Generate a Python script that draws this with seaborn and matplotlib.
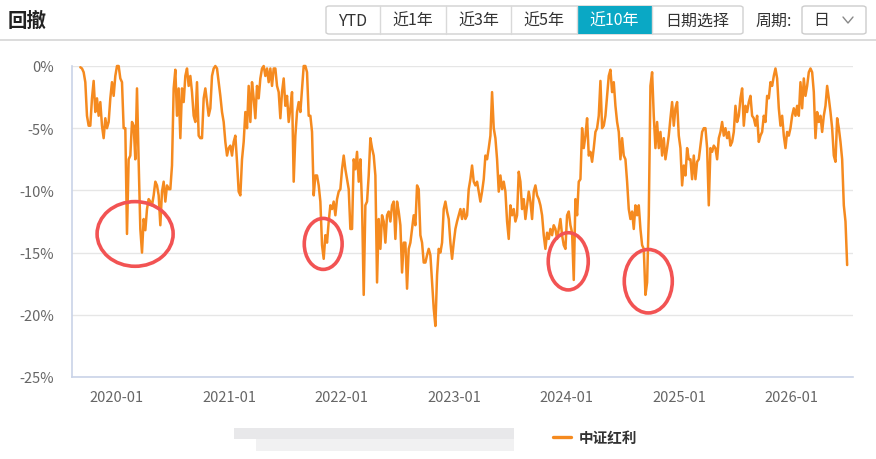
import pandas as pd
import seaborn as sns
import matplotlib.pyplot as plt
import matplotlib.dates as mdates
from matplotlib.patches import Ellipse, Rectangle, FancyBboxPatch
from matplotlib.lines import Line2D
from matplotlib.ticker import FuncFormatter

sns.set_style("white")
plt.rcParams['font.family'] = ['Noto Sans CJK SC', 'DejaVu Sans']

# %%
title = "回撤"
series_name = "中证红利"
period_buttons = ["YTD", "近1年", "近3年", "近5年", "近10年", "日期选择"]
selected_button = "近10年"
start_date = "2019-09-05"
end_date = "2026-07-01"

# drawdown in % at evenly spaced dates
drawdown = [
    -0.1, -0.2, -0.5, -1.3, -4.0, -4.8, -4.8, -2.6, -1.2, -3.7,
    -2.6, -4.0, -2.9, -4.8, -5.8, -4.2, -5.0, -4.5, -2.6, -1.3,
    -2.4, -0.8, 0.0, 0.0, -1.0, -1.3, -5.0, -5.0, -13.5, -7.5,
    -7.2, -4.5, -4.8, -7.5, -1.8, -7.7, -13.1, -15.0, -12.3, -13.2,
    -11.5, -10.7, -10.9, -11.2, -10.4, -9.3, -9.6, -10.4, -12.8, -10.1,
    -9.3, -10.9, -9.6, -9.9, -9.9, -8.0, -1.8, -0.3, -4.0, -1.8,
    -5.8, -1.8, -2.9, -0.8, -0.2, -1.6, -0.8, -2.1, -4.0, -4.5,
    -1.3, -5.6, -5.8, -5.8, -2.6, -1.8, -2.9, -4.0, -3.4, -0.8,
    -0.2, 0.0, -0.2, -1.3, -2.4, -3.7, -4.5, -6.1, -7.2, -6.6,
    -6.4, -7.2, -6.1, -5.6, -7.7, -10.1, -10.4, -7.5, -6.1, -3.7,
    -5.0, -1.6, -4.5, -1.3, -2.6, -4.2, -1.6, -2.6, -1.0, -0.2,
    0.0, -0.8, -0.2, -1.3, -0.2, -1.6, -0.2, -0.2, -1.6, -2.1,
    -4.2, -2.1, -1.0, -3.2, -2.4, -4.5, -3.4, -2.1, -9.3, -5.6,
    -3.7, -2.9, -3.7, -1.8, 0.0, 0.0, -0.5, -4.0, -4.0, -5.3,
    -10.4, -8.8, -8.8, -9.6, -10.9, -14.4, -15.5, -13.6, -14.2, -12.5,
    -11.2, -11.5, -10.9, -12.0, -10.7, -10.1, -9.9, -8.3, -7.2, -8.3,
    -9.1, -9.9, -13.1, -13.1, -7.5, -8.3, -6.9, -9.3, -7.5, -11.2,
    -18.4, -11.2, -10.9, -8.8, -5.8, -6.6, -7.2, -8.8, -17.4, -12.3,
    -14.7, -12.0, -12.5, -14.2, -12.0, -11.7, -12.5, -11.2, -10.9, -13.9,
    -10.9, -11.7, -12.8, -16.6, -14.2, -14.2, -17.9, -14.7, -14.2, -13.1,
    -12.0, -12.8, -9.6, -9.9, -13.6, -14.2, -15.8, -15.8, -15.2, -14.7,
    # 2022-11 onwards
    -15.2, -17.4, -19.5, -20.9, -16.8, -14.7, -15.0, -14.2, -11.5, -10.9,
    -11.7, -12.3, -14.2, -15.5, -14.2, -13.1, -12.5, -12.0, -11.5, -12.3,
    -11.5, -12.3, -12.0, -9.9, -9.1, -8.0, -9.3, -9.6, -9.3, -10.1,
    -10.9, -10.1, -9.1, -7.2, -7.5, -6.6, -5.6, -2.1, -5.0, -5.8,
    -7.5, -10.1, -8.8, -9.9, -9.3, -10.1, -12.5, -13.9, -11.2, -12.0,
    -11.5, -12.5, -12.0, -8.5, -9.3, -11.5, -10.7, -12.3, -11.2, -10.1,
    -10.9, -12.3, -10.1, -9.6, -10.4, -10.7, -11.2, -12.0, -13.6, -14.7,
    -13.4, -13.9, -13.1, -13.6, -12.8, -13.1, -13.9, -13.1, -12.3, -13.6,
    -14.4, -14.7, -12.0, -11.7, -12.8, -13.4, -17.2, -10.7, -12.0, -9.3,
    -9.1, -5.0, -6.6, -5.6, -4.2, -7.2, -6.9, -7.7, -6.6, -5.3,
    -5.0, -4.0, -1.2, -5.0, -4.8, -4.0, -2.4, -0.8, -0.3, -2.1,
    -1.3, -3.2, -4.5, -5.3, -7.5, -5.8, -7.2, -7.5, -9.3, -11.5,
    -12.3, -11.7, -13.1, -11.2, -12.0, -11.2, -13.1, -14.4, -14.7, -18.4,
    -17.4, -12.0, -1.6, -0.5, -4.0, -6.6, -4.5, -6.6, -5.3, -7.2,
    -5.8, -7.5, -6.6, -5.6, -4.2, -2.9, -4.8, -3.4, -2.9, -5.6,
    -6.6, -9.6, -8.0, -8.8, -6.6, -7.5, -7.5, -9.1, -7.2, -9.1,
    -7.7, -7.5, -6.4, -5.3, -5.0, -5.0, -6.6, -11.2, -6.6, -6.9,
    -6.4, -6.6, -7.5, -5.8, -5.3, -4.5, -5.6, -5.0, -5.8, -5.3,
    -6.4, -6.1, -5.3, -3.2, -4.5, -4.0, -2.6, -1.8, -4.8, -3.2,
    -3.7, -2.9, -2.4, -4.0, -4.2, -4.8, -4.0, -6.1, -5.6, -5.3,
    -4.0, -4.5, -2.4, -2.6, -1.3, -1.6, -0.8, -0.2, -1.0, -3.4,
    -4.8, -4.0, -5.6, -6.6, -5.3, -5.6, -5.0, -4.0, -3.4, -4.0,
    -3.2, -4.0, -1.3, -3.4, -1.0, -2.4, -1.6, -0.5, -0.2, -0.5,
    -2.1, -5.8, -3.7, -4.5, -4.0, -5.3, -4.0, -3.2, -1.6, -2.6,
    -3.7, -5.0, -7.2, -7.7, -4.2, -5.0, -6.1, -7.5, -11.2, -12.5,
    -16.0,
]

# red circles drawn on the chart: centre date, centre value, width (days), height (%)
circle_dates = ["2020-03-01", "2021-11-02", "2024-01-07", "2024-09-23"]
circle_values = [-13.5, -14.3, -15.7, -17.3]
circle_widths = [247, 123, 130, 156]
circle_heights = [5.2, 4.1, 4.6, 5.1]

dates = pd.date_range(start_date, end_date, periods=len(drawdown))
df = pd.DataFrame({"date": dates, "drawdown": drawdown})

# %%
W, H = 876, 460
ORANGE = "#f58a1f"
AXIS = "#c9d3e8"
TEXT = "#666666"


def fx(px):
    return px / W


def fy(py):
    return 1 - py / H


fig = plt.figure(figsize=(W / 100, H / 100), dpi=100)
ax = fig.add_axes([fx(72), fy(378), fx(853) - fx(72), fy(67) - fy(378)])

sns.lineplot(data=df, x="date", y="drawdown", ax=ax, color=ORANGE,
             linewidth=1.8, estimator=None, legend=False, clip_on=False)

ax.set_ylim(-25, 0)
ax.set_xlim(pd.Timestamp("2019-08-09"), pd.Timestamp("2026-07-20"))
ax.set_yticks([0, -5, -10, -15, -20, -25])
ax.yaxis.set_major_formatter(FuncFormatter(lambda v, p: f"{int(round(v))}%"))
ax.xaxis.set_major_locator(mdates.YearLocator(month=1, day=1))
ax.xaxis.set_major_formatter(mdates.DateFormatter("%Y-%m"))
ax.set_xlabel("")
ax.set_ylabel("")

ax.grid(axis="y", color="#e6e6e6", linewidth=1)
ax.grid(axis="x", visible=False)
ax.set_axisbelow(True)
for s in ["top", "right"]:
    ax.spines[s].set_visible(False)
for s in ["left", "bottom"]:
    ax.spines[s].set_color(AXIS)
    ax.spines[s].set_linewidth(1.2)
ax.tick_params(axis="y", length=0, pad=13, labelsize=10.5, labelcolor=TEXT)
ax.tick_params(axis="x", length=7.5, width=1, color=AXIS, pad=1.5,
               labelsize=10.5, labelcolor=TEXT)

for d, v, w, h in zip(circle_dates, circle_values, circle_widths, circle_heights):
    ax.add_patch(Ellipse((mdates.date2num(pd.Timestamp(d)), v), width=w, height=h,
                         fill=False, edgecolor="#f25353", linewidth=2.6,
                         clip_on=False, zorder=5))

# header
fig.text(fx(8), fy(21), title, fontsize=14, fontweight="bold", color="#222222",
         ha="left", va="center")
fig.add_artist(Line2D([0, 1], [fy(41), fy(41)], color="#d6d6d6", linewidth=1.2))

edges = [326, 380, 446, 511, 577, 652, 743]
btn_top, btn_bot = 7, 35
fig.add_artist(FancyBboxPatch((fx(edges[0]), fy(btn_bot)), fx(edges[-1]) - fx(edges[0]),
                              fy(btn_top) - fy(btn_bot),
                              boxstyle="round,pad=0,rounding_size=0.004",
                              facecolor="white", edgecolor="#d0d0d0", linewidth=1))
for i, label in enumerate(period_buttons):
    x0, x1 = edges[i], edges[i + 1]
    if label == selected_button:
        fig.add_artist(Rectangle((fx(x0), fy(btn_bot)), fx(x1) - fx(x0),
                                 fy(btn_top) - fy(btn_bot), facecolor="#0aa8c5",
                                 edgecolor="none"))
        color = "white"
    else:
        color = "#333333"
    if 0 < i:
        fig.add_artist(Line2D([fx(x0), fx(x0)], [fy(btn_bot), fy(btn_top)],
                              color="#d9d9d9", linewidth=1))
    fig.text(fx((x0 + x1) / 2), fy(21), label, fontsize=11.5, color=color,
             ha="center", va="center")

fig.text(fx(755), fy(21), "周期:", fontsize=11.5, color="#333333", ha="left", va="center")
fig.add_artist(FancyBboxPatch((fx(802), fy(btn_bot)), fx(866) - fx(802),
                              fy(btn_top) - fy(btn_bot),
                              boxstyle="round,pad=0,rounding_size=0.004",
                              facecolor="white", edgecolor="#cccccc", linewidth=1))
fig.text(fx(821), fy(21), "日", fontsize=11.5, color="#333333", ha="center", va="center")
fig.add_artist(Line2D([fx(843), fx(848), fx(853)], [fy(18), fy(24), fy(18)],
                      color="#888888", linewidth=1))

# footer: blurred area and legend
fig.add_artist(Rectangle((fx(234), fy(440)), fx(514) - fx(234), fy(429) - fy(440),
                         facecolor="#e8e8ea", edgecolor="none"))
fig.add_artist(Rectangle((fx(256), fy(452)), fx(514) - fx(256), fy(440) - fy(452),
                         facecolor="#f1f1f2", edgecolor="none"))
fig.add_artist(Line2D([fx(553), fx(571)], [fy(438), fy(438)], color=ORANGE, linewidth=2.4))
fig.text(fx(579), fy(438), series_name, fontsize=10.5, fontweight="bold", color="#333333",
         ha="left", va="center")

fig.savefig("out.png", dpi=100)
